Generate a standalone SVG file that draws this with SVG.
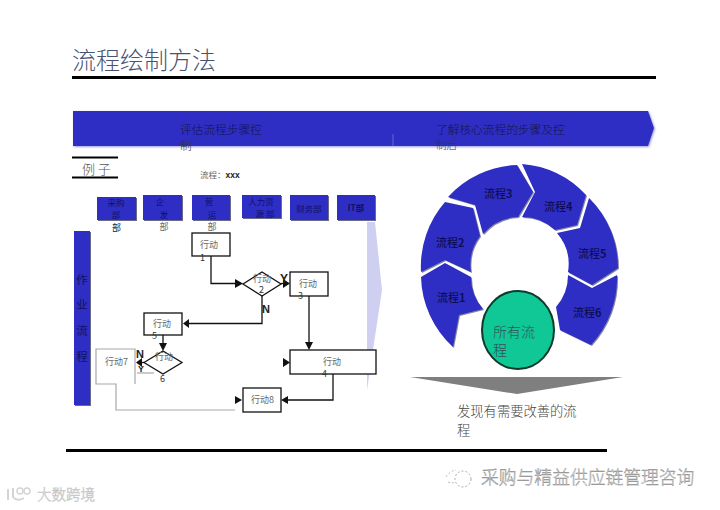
<svg xmlns="http://www.w3.org/2000/svg" width="720" height="510" viewBox="0 0 720 510">
<defs>
<style>
text{font-family:"Noto Sans CJK SC","Liberation Sans",sans-serif}
.serif{font-family:"Noto Sans CJK SC","Liberation Serif",serif;font-weight:300}
.rule{stroke:#000;stroke-width:3;fill:none}
.rule2{stroke:#000;stroke-width:2;fill:none}
.blue{fill:#2e2ec4}
.dept{fill:#2e2ec4;filter:drop-shadow(1.5px 1.5px 0 #6a6a8a)}
.seg{fill:#2e2ec4;filter:drop-shadow(1.5px 1.5px 0 #8585a5)}
.box{fill:#fff;stroke:#111;stroke-width:1.3}
.ln{fill:none;stroke:#111;stroke-width:1.3}
.gl{fill:none;stroke:#a8a8a8;stroke-width:1.2}
.ah{fill:#111}
.t9{font-size:9px;fill:#666}
.n9{font-size:9px;fill:#333}
.dp{font-size:8.500px;fill:#10106a}
.seglab{font-size:11px;fill:#0e0e58;font-weight:500}
.seglab tspan{font-weight:700}
.yn{font-size:11px;font-weight:700;fill:#222;font-family:"Liberation Sans",sans-serif}
.wm{font-size:17.800px;fill:#fff;stroke:#888;stroke-width:.45;font-weight:300}
.wm2{font-size:14.500px;fill:#f2f2f2;stroke:#c4c4c4;stroke-width:.5;font-weight:300}
</style>
</defs>
<rect width="720" height="510" fill="#fff"/>
<text x="72" y="69" font-size="24" fill="#4a5272" class="serif">流程绘制方法</text>
<path class="rule" d="M72 77.500H656"/>
<path class="blue" d="M73 111H648L654 128L648 146H73Z" style="filter:drop-shadow(1px 1px 1px #9a9ae0)"/>
<path d="M393 134V146" stroke="#8a8ae0" stroke-width=".6"/>
<text x="180" y="134" font-size="11.700" fill="#14144a" class="serif">评估流程步骤控</text>
<text x="180" y="150" font-size="11.700" fill="#333" class="serif">制</text>
<text x="436" y="134" font-size="11.700" fill="#14144a" class="serif">了解核心流程的步骤及控</text>
<text x="436" y="149" font-size="10.500" fill="#333" class="serif">制后</text>
<path class="rule2" d="M72 157.500H118M72 177.500H118"/>
<text x="82" y="174" font-size="13" fill="#555" class="serif">例 子</text>
<text x="200" y="178" font-size="8.500" fill="#666">流程：<tspan font-family="Liberation Sans" font-weight="700" fill="#222">xxx</tspan></text>

<g id="dept-1"><rect class="dept" x="97" y="197" width="39" height="23"/><text class="dp" x="116" y="206" text-anchor="middle">采购</text><text class="dp" x="116" y="218" text-anchor="middle">部</text><text x="116.500" y="231" font-size="9" fill="#222" text-anchor="middle">部</text></g>
<g id="dept-2"><rect class="dept" x="143" y="195" width="39" height="25"/><text class="dp" x="160" y="205" text-anchor="middle">企</text><text class="dp" x="164" y="218" text-anchor="middle">发</text><text x="164" y="230" font-size="9" fill="#666" text-anchor="middle">部</text></g>
<g id="dept-3"><rect class="dept" x="192" y="195" width="38" height="25"/><text class="dp" x="209" y="205" text-anchor="middle">营</text><text class="dp" x="212" y="218" text-anchor="middle">运</text><text x="212" y="230" font-size="9" fill="#666" text-anchor="middle">部</text></g>
<g id="dept-4"><rect class="dept" x="242" y="195" width="39" height="23"/><text class="dp" x="261" y="205" text-anchor="middle">人力资</text><text class="dp" x="265" y="216.500" text-anchor="middle">源 部</text></g>
<g id="dept-5"><rect class="dept" x="290" y="195" width="38" height="25"/><text class="dp" x="309" y="212" text-anchor="middle">财务部</text></g>
<g id="dept-6"><rect class="dept" x="337" y="195" width="38" height="25"/><text class="dp" x="356" y="211" text-anchor="middle" style="font-weight:700">IT部</text></g>

<polygon id="chevron" points="367,222 375,222 382,290 367,390" fill="#cfcff2"/>
<g id="lane"><rect class="dept" x="74" y="231" width="16" height="174"/>
<g font-size="11.500" fill="#12125e" text-anchor="middle"><text x="82" y="284">作</text><text x="82" y="309">业</text><text x="82" y="335">流</text><text x="82" y="361">程</text></g></g>

<g id="connectors">
<path class="ln" d="M211 256V283.500H236"/>
<polygon class="ah" points="235,279 243,283.500 235,288"/>
<polygon class="ah" points="283,279 290,283.500 283,288"/>
<path class="ln" d="M281 283.500H284"/>
<path class="ln" d="M262 296V323.500H189"/>
<polygon class="ah" points="189,319 183,323.500 189,328"/>
<path class="ln" d="M163 335V345"/>
<polygon class="ah" points="159,343 167,343 163,351"/>
<path class="ln" d="M144 362.500H141"/>
<polygon class="ah" points="142,358 136,362.500 142,367"/>
<path class="ln" d="M309 296V343"/>
<polygon class="ah" points="305,342 313,342 309,350"/>
<polygon class="ah" points="283,358 290,362.500 283,367"/>
<path class="ln" d="M333 374V400H287"/>
<polygon class="ah" points="288,396 281,400 288,404"/>
<polygon class="ah" points="235,396 242,400 235,404"/>
<path class="gl" d="M135 384V349H96V384H116V410H235"/>
<path class="gl" d="M137 373H154"/>
<text class="yn" x="280" y="283" style="font-size:12px">Y</text>
<text class="yn" x="262" y="313">N</text>
<text class="yn" x="136" y="358">N</text>
<text class="yn" x="138" y="372" style="font-size:9px">Y</text>
</g>

<g id="a1"><rect class="box" x="192" y="233" width="38" height="23"/><text class="t9" x="200" y="248">行动</text><text class="n9" x="200" y="261">1</text></g>
<g id="d2"><polygon class="box" points="243,284 262,272 281,284 262,296"/><text class="t9" x="253" y="282">行动</text><text class="n9" x="259" y="293">2</text></g>
<g id="a3"><rect class="box" x="290" y="272" width="38" height="24"/><text class="t9" x="299" y="287">行动</text><text class="n9" x="298" y="299">3</text></g>
<g id="a5"><rect class="box" x="144" y="313" width="38" height="22"/><text class="t9" x="153" y="327">行动</text><text class="n9" x="152" y="339">5</text></g>
<g id="d6"><polygon class="box" points="144,362.500 163,351 182,362.500 163,374"/><text class="t9" x="155" y="360">行动</text><text class="n9" x="160" y="382">6</text></g>
<g id="a7"><text class="t9" x="105" y="365">行动7</text></g>
<g id="a4"><rect class="box" x="290" y="350" width="86" height="24"/><text class="t9" x="323" y="365">行动</text><text class="n9" x="322" y="377">4</text></g>
<g id="a8"><rect class="box" x="243" y="388" width="38" height="24"/><text class="t9" x="251" y="403">行动8</text></g>

<g id="ring">
<g id="s1"><path class="seg" d="M421 277A98 98 0 0 0 453 347L459 315L483 309A48 48 0 0 1 471 277L445 263Z"/><text class="seglab" x="437" y="302">流程<tspan>1</tspan></text></g>
<g id="s2"><path class="seg" d="M421 272A98 98 0 0 1 445 202L473 208L480 236A48 48 0 0 0 471 272L445 260Z"/><text class="seglab" x="436" y="247">流程<tspan>2</tspan></text></g>
<g id="s3"><path class="seg" d="M448 197A98 98 0 0 1 517 165L533 192L518 217A48 48 0 0 0 483 234L475 205Z"/><text class="seglab" x="484" y="198">流程<tspan>3</tspan></text></g>
<g id="s4"><path class="seg" d="M522 164A98 98 0 0 1 586 195L577 225L555 230A48 48 0 0 0 522 217L535 192Z"/><text class="seglab" x="544" y="211">流程<tspan>4</tspan></text></g>
<g id="s5"><path class="seg" d="M589 198A98 98 0 0 1 618 268L592 285L568 272A48 48 0 0 0 557 233L580 228Z"/><text class="seglab" x="578" y="258">流程<tspan>5</tspan></text></g>
<g id="s6"><path class="seg" d="M617 275A98 98 0 0 1 591 345L560 330L556 307A48 48 0 0 0 568 275L592 288Z"/><text class="seglab" x="573" y="317">流程<tspan>6</tspan></text></g>
</g>
<g id="all"><ellipse cx="518" cy="330" rx="36" ry="39" fill="#0fc896" stroke="#0d3a2c" stroke-width="2"/><text x="493" y="337" font-size="14" fill="#33505a" class="serif">所有流</text><text x="493" y="355" font-size="14" fill="#33505a" class="serif">程</text></g>
<polygon id="down" points="410,377 623,377 517,394" fill="#7f7f7f"/>
<text x="457" y="416" font-size="13.300" fill="#444" class="serif">发现有需要改善的流</text>
<text x="457" y="435" font-size="13.300" fill="#444" class="serif">程</text>
<path class="rule" d="M66 450.500H607"/>
<g id="wm-right"><circle cx="463" cy="479" r="8" fill="none" stroke="#aaa" stroke-dasharray="2 2"/><path d="M446 477Q450 471 456 470M448 482Q452 484 455 482" fill="none" stroke="#bbb" stroke-dasharray="2 2"/><text class="wm" x="481" y="484">采购与精益供应链管理咨询</text></g>
<g id="wm-left"><path d="M8 489V500M13 488V497Q17 502 24 498" fill="none" stroke="#d4d4d4" stroke-width="2"/><circle cx="20" cy="491" r="3" fill="none" stroke="#d4d4d4" stroke-width="1.500"/><circle cx="27" cy="491" r="3" fill="none" stroke="#d4d4d4" stroke-width="1.500"/><text class="wm2" x="37" y="500">大数跨境</text></g>
</svg>
